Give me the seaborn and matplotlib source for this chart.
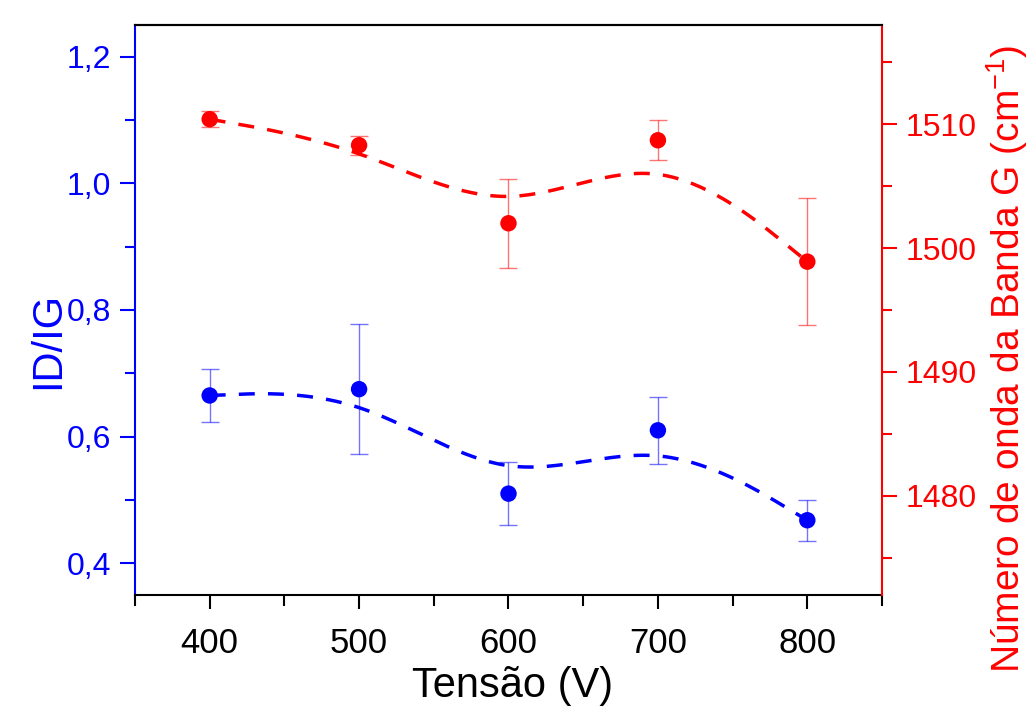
import numpy as np
import pandas as pd
import matplotlib
matplotlib.use("Agg")
import matplotlib.pyplot as plt
from matplotlib.ticker import FuncFormatter, MultipleLocator
import seaborn as sns

# ---- data ----
tensao = [400, 500, 600, 700, 800]
id_ig = [0.665, 0.675, 0.51, 0.61, 0.468]
id_ig_err = [0.042, 0.103, 0.05, 0.053, 0.032]
banda_g = [1510.4, 1508.3, 1502.0, 1508.7, 1498.9]
banda_g_err = [0.67, 0.78, 3.6, 1.6, 5.1]

xticks = [400, 500, 600, 700, 800]
left_ticks = [0.4, 0.6, 0.8, 1.0, 1.2]
right_ticks = [1480, 1490, 1500, 1510]

BLUE = "#0000FF"
RED = "#FF0000"


def bspline(xs, ys, n=60):
    """Uniform cubic B-spline (Origin style, ends tripled) using the data as control points."""
    qx = np.asarray([xs[0]] * 2 + list(xs) + [xs[-1]] * 2, float)
    qy = np.asarray([ys[0]] * 2 + list(ys) + [ys[-1]] * 2, float)
    t = np.linspace(0, 1, n)
    b0 = (1 - t) ** 3 / 6
    b1 = (3 * t**3 - 6 * t**2 + 4) / 6
    b2 = (-3 * t**3 + 3 * t**2 + 3 * t + 1) / 6
    b3 = t**3 / 6
    ox, oy = [], []
    for i in range(len(qx) - 3):
        ox.append(b0 * qx[i] + b1 * qx[i + 1] + b2 * qx[i + 2] + b3 * qx[i + 3])
        oy.append(b0 * qy[i] + b1 * qy[i + 1] + b2 * qy[i + 2] + b3 * qy[i + 3])
    return np.concatenate(ox), np.concatenate(oy)


sns.set_style("ticks")
plt.rcParams["font.family"] = ["Liberation Sans", "DejaVu Sans"]
plt.rcParams["mathtext.fontset"] = "custom"
plt.rcParams["mathtext.rm"] = "Liberation Sans"
plt.rcParams["mathtext.it"] = "Liberation Sans:italic"

fig = plt.figure(figsize=(10.35, 7.11), dpi=100)
ax = fig.add_axes([0.1304, 0.1632, 0.7218, 0.8016])
ax2 = ax.twinx()

df = pd.DataFrame({"tensao": tensao, "id_ig": id_ig, "banda_g": banda_g})

DASH = (4.6, 3.8)

# blue series
bx, by = bspline(tensao, id_ig)
sns.lineplot(x=bx, y=by, ax=ax, color=BLUE, lw=2.5, sort=False, legend=False)
ax.lines[-1].set_dashes(DASH)
ax.errorbar(tensao, id_ig, yerr=id_ig_err, fmt="none", ecolor=BLUE,
            elinewidth=1.0, capsize=6.5, capthick=1.0, alpha=0.55, zorder=3)
sns.scatterplot(data=df, x="tensao", y="id_ig", ax=ax, color=BLUE, s=140,
                edgecolor="none", zorder=4, legend=False)

# red series
rx, ry = bspline(tensao, banda_g)
sns.lineplot(x=rx, y=ry, ax=ax2, color=RED, lw=2.5, sort=False, legend=False)
ax2.lines[-1].set_dashes(DASH)
ax2.errorbar(tensao, banda_g, yerr=banda_g_err, fmt="none", ecolor=RED,
             elinewidth=1.0, capsize=6.5, capthick=1.0, alpha=0.55, zorder=3)
sns.scatterplot(data=df, x="tensao", y="banda_g", ax=ax2, color=RED, s=140,
                edgecolor="none", zorder=4, legend=False)

# limits and ticks
ax.set_xlim(350, 850)
ax.set_ylim(0.35, 1.25)
ax2.set_ylim(1472, 1518)

ax.set_xticks(xticks)
ax.xaxis.set_minor_locator(MultipleLocator(50))
ax.set_yticks(left_ticks)
ax.yaxis.set_minor_locator(MultipleLocator(0.1))
ax2.set_yticks(right_ticks)
ax2.yaxis.set_minor_locator(MultipleLocator(5))

ax.yaxis.set_major_formatter(FuncFormatter(lambda v, p: f"{v:.1f}".replace(".", ",")))

ax.tick_params(axis="x", which="major", length=10, width=1.5, colors="black",
               labelsize=25, pad=13, direction="out")
ax.tick_params(axis="x", which="minor", length=8, width=1.5, colors="black",
               direction="out")
ax.tick_params(axis="y", which="major", length=11, width=1.5, colors=BLUE,
               labelsize=23, pad=6, direction="out")
ax.tick_params(axis="y", which="minor", length=7, width=1.5, colors=BLUE,
               direction="out")
ax2.tick_params(axis="y", which="major", length=11, width=1.5, colors=RED,
                labelsize=23, pad=6, direction="out")
ax2.tick_params(axis="y", which="minor", length=7, width=1.5, colors=RED,
                direction="out")

for s in list(ax.spines.values()) + list(ax2.spines.values()):
    s.set_linewidth(1.5)
ax.spines["left"].set_color(BLUE)
ax.spines["bottom"].set_color("black")
ax.spines["top"].set_color("black")
ax.spines["right"].set_visible(False)
ax2.spines["left"].set_visible(False)
ax2.spines["bottom"].set_visible(False)
ax2.spines["top"].set_color("black")
ax2.spines["right"].set_color(RED)

ax.set_xlabel("Tensão (V)", fontsize=30, color="black")
ax.xaxis.set_label_coords(0.505, -0.124)
ax.set_ylabel("ID/IG", fontsize=30, color=BLUE)
ax.yaxis.set_label_coords(-0.09, 0.446)
ax2.set_ylabel("Número de onda da Banda G (cm$^{\\mathregular{-1}}$)", fontsize=28,
               color=RED)
ax2.yaxis.set_label_coords(1.137, 0.415)

fig.savefig("out.png", dpi=100)
